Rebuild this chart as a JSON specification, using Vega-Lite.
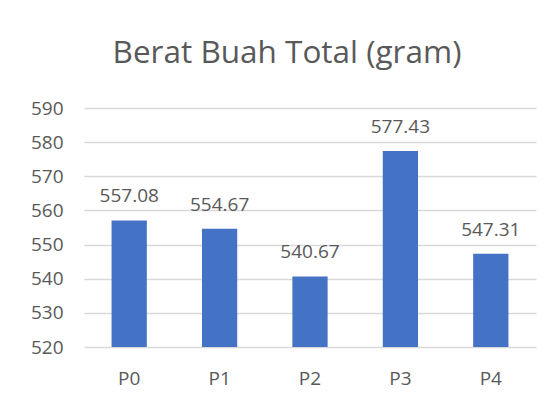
{
  "$schema": "https://vega.github.io/schema/vega-lite/v6.json",
  "autosize": "none",
  "width": 452,
  "height": 239,
  "padding": {"left": 84, "top": 108, "right": 24, "bottom": 53},
  "background": "white",
  "title": {
    "text": "Berat Buah Total (gram)",
    "font": "Open Sans",
    "fontSize": 31.5,
    "fontWeight": "normal",
    "color": "#595959",
    "anchor": "middle",
    "dx": -23,
    "offset": 30
  },
  "data": {
    "values": [
      {"perlakuan": "P0", "berat": 557.08},
      {"perlakuan": "P1", "berat": 554.67},
      {"perlakuan": "P2", "berat": 540.67},
      {"perlakuan": "P3", "berat": 577.43},
      {"perlakuan": "P4", "berat": 547.31}
    ]
  },
  "encoding": {
    "x": {
      "field": "perlakuan",
      "type": "nominal",
      "sort": null,
      "scale": {"paddingInner": 0.61, "paddingOuter": 0.305},
      "axis": {
        "title": null,
        "labelAngle": 0,
        "domain": false,
        "ticks": false,
        "labelPadding": 22,
        "labelFont": "Open Sans",
        "labelFontSize": 19,
        "labelColor": "#595959"
      }
    },
    "y": {
      "field": "berat",
      "type": "quantitative",
      "scale": {"domain": [520, 590], "zero": false, "nice": false},
      "axis": {
        "title": null,
        "values": [520, 530, 540, 550, 560, 570, 580, 590],
        "domain": false,
        "ticks": false,
        "labelPadding": 21,
        "labelFont": "Open Sans",
        "labelFontSize": 19,
        "labelColor": "#595959",
        "gridColor": "#d9d9d9",
        "gridWidth": 1.3
      }
    }
  },
  "layer": [
    {
      "mark": {"type": "bar", "color": "#4472C4"},
      "encoding": {"y2": {"datum": 520}}
    },
    {
      "mark": {
        "type": "text",
        "baseline": "alphabetic",
        "dy": -18,
        "font": "Open Sans",
        "fontSize": 19,
        "color": "#595959"
      },
      "encoding": {
        "text": {"field": "berat", "type": "quantitative", "format": ".2f"}
      }
    }
  ],
  "config": {"view": {"stroke": null}}
}
